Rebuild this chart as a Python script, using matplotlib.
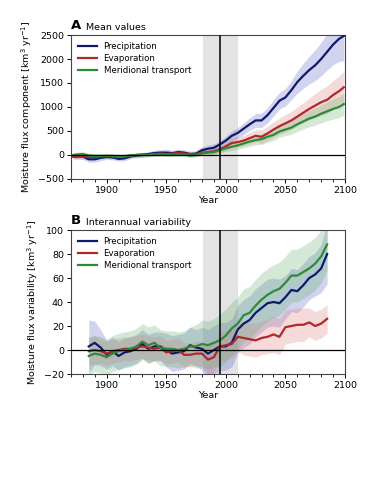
import matplotlib
matplotlib.use("Agg")
import matplotlib.pyplot as plt
import numpy as np
from matplotlib.ticker import MultipleLocator

# ---- Panel A data (mean values) ----
years_a = [1872] + list(range(1875, 2096, 5)) + [2099]
precip_a = [-20,-20,-30,-90,-90,-60,-40,-50,-80,-70,-30,-10,0,20,40,50,50,40,60,50,20,30,100,130,150,220,300,400,460,550,640,720,720,830,980,1130,1200,1350,1520,1650,1770,1870,2000,2150,2300,2420,2480]
precip_a_spread = [60,60,60,60,60,60,50,50,50,50,50,50,50,50,60,60,70,60,60,60,60,60,70,70,80,80,90,100,110,120,130,140,150,160,170,175,180,200,230,260,290,320,350,380,420,470,520]
evap_a = [-40,-40,-30,-40,-40,-30,-20,-20,-30,-30,-10,0,10,10,20,30,20,30,40,30,20,20,50,60,80,120,180,250,270,300,350,400,380,450,530,600,660,720,800,880,960,1030,1100,1150,1250,1330,1410]
evap_a_spread = [50,50,50,50,50,50,50,50,50,50,40,40,40,40,40,40,40,40,40,40,40,40,50,50,60,70,80,90,100,110,120,130,140,150,160,170,180,190,200,210,230,250,270,290,300,320,330]
merid_a = [0,10,20,-10,-20,-20,-20,-30,-40,-30,-10,0,0,0,10,10,10,0,10,10,-10,0,30,50,60,100,140,170,200,240,280,310,330,380,420,490,530,570,640,700,760,800,860,910,960,1000,1060]
merid_a_spread = [50,50,50,50,50,50,50,50,50,50,40,40,40,40,40,40,40,40,40,40,40,40,50,50,60,60,70,80,80,90,100,100,110,110,120,120,130,140,150,160,170,180,190,200,210,220,230]

# ---- Panel B data (interannual variability) ----
years_b = list(range(1885, 2086, 5))
precip_b = [3,6,2,-4,-1,-5,-2,-1,1,5,1,3,3,0,-3,-2,-1,4,2,1,-3,0,3,3,6,17,22,25,31,35,39,40,39,44,50,49,54,60,63,68,80]
precip_b_spread = [22,18,15,12,12,12,12,12,12,12,12,12,12,14,15,15,15,15,15,18,20,20,20,20,20,20,20,20,20,20,20,20,20,18,18,18,18,18,18,20,25]
evap_b = [-1,0,-1,-3,-1,0,1,1,2,3,2,1,2,-2,-1,0,-4,-4,-3,-3,-8,-6,3,4,5,11,10,9,8,10,11,13,11,19,20,21,21,23,20,22,26]
evap_b_spread = [12,12,10,10,10,10,10,10,10,10,10,10,10,10,10,10,10,10,10,10,12,12,12,12,12,12,14,14,14,14,14,15,15,14,14,14,14,12,12,12,12]
merid_b = [-5,-3,-4,-6,-3,-1,0,1,3,7,4,6,2,1,1,0,1,3,3,5,4,6,8,12,18,22,29,31,37,42,46,49,51,56,62,62,65,68,72,78,88]
merid_b_spread = [15,15,15,15,15,15,15,15,15,15,15,15,15,15,15,15,15,16,18,20,20,20,22,22,22,22,22,22,22,22,22,22,22,22,22,22,22,22,22,22,22]

labels = ["Precipitation", "Evaporation", "Meridional transport"]
line_colors = ["#0c1a6b", "#b0282c", "#2f8a38"]
band_colors = ["#5b64c9", "#e07a7a", "#62b26a"]

fig = plt.figure(figsize=(3.75, 5), dpi=100)
axA = fig.add_axes([0.189, 0.642, 0.731, 0.288])
axB = fig.add_axes([0.189, 0.252, 0.731, 0.288])

def draw(ax, years, series, spreads, ylim, yticks, ylabel, letter, title):
    ax.axvspan(1981, 2010, color="#e3e3e3", zorder=0, lw=0)
    for s, sp, lc, bc, lab in zip(series, spreads, line_colors, band_colors, labels):
        s = np.array(s, float); sp = np.array(sp, float)
        ax.fill_between(years, s - sp, s + sp, color=bc, alpha=0.28, lw=0, zorder=1)
    for s, lc, lab in zip(series, line_colors, labels):
        ax.plot(years, s, color=lc, lw=1.6, label=lab, zorder=3)
    ax.axhline(0, color="black", lw=0.9, zorder=4)
    ax.axvline(1995, color="black", lw=1.1, zorder=4)
    ax.set_xlim(1870, 2100)
    ax.set_ylim(*ylim)
    ax.set_yticks(yticks)
    ax.set_xticks([1900, 1950, 2000, 2050, 2100])
    ax.xaxis.set_minor_locator(MultipleLocator(10))
    ax.tick_params(labelsize=6.8, length=3, width=0.7, pad=2)
    ax.tick_params(which="minor", length=1.8, width=0.6)
    ax.set_xlabel("Year", fontsize=6.8, labelpad=1)
    ax.set_ylabel(ylabel, fontsize=6.8, labelpad=3)
    for sp in ax.spines.values():
        sp.set_color("#444444")
        sp.set_linewidth(0.8)
    ax.legend(loc="upper left", frameon=False, fontsize=6.2, handlelength=2.2,
              borderaxespad=0.4, labelspacing=0.35)
    ax.text(0.0, 1.02, letter, transform=ax.transAxes, fontsize=9.5,
            fontweight="bold", ha="left", va="bottom")
    ax.text(0.055, 1.02, title, transform=ax.transAxes, fontsize=6.8,
            ha="left", va="bottom")

draw(axA, years_a, [precip_a, evap_a, merid_a],
     [precip_a_spread, evap_a_spread, merid_a_spread],
     (-500, 2500), [-500, 0, 500, 1000, 1500, 2000, 2500],
     "Moisture flux component [km$^3$ yr$^{-1}$]", "A", "Mean values")
draw(axB, years_b, [precip_b, evap_b, merid_b],
     [precip_b_spread, evap_b_spread, merid_b_spread],
     (-20, 100), [-20, 0, 20, 40, 60, 80, 100],
     "Moisture flux variability [km$^3$ yr$^{-1}$]", "B", "Interannual variability")

fig.savefig("out.png", dpi=100)
